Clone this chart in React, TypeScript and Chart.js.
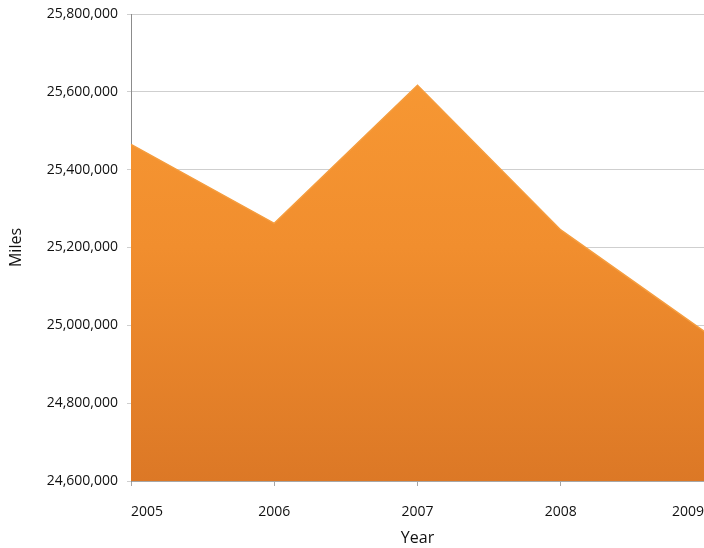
import React, { useEffect, useRef } from "react";
import { Chart, registerables } from "chart.js";

Chart.register(...registerables);

const years = ["2005", "2006", "2007", "2008", "2009"];
const miles = [25465000, 25262000, 25617000, 25245000, 24985000];
const yMin = 24600000;
const yMax = 25800000;
const yStep = 200000;

export default function App() {
  const ref = useRef<HTMLCanvasElement | null>(null);

  useEffect(() => {
    if (!ref.current) return;
    const chart = new Chart(ref.current, {
      type: "line",
      data: {
        labels: years,
        datasets: [
          {
            label: "Miles",
            data: miles,
            fill: "start",
            tension: 0,
            borderColor: "#F59D3F",
            borderWidth: 1.5,
            pointRadius: 0,
            backgroundColor: (ctx: any) => {
              const c = ctx.chart;
              const area = c.chartArea;
              if (!area) return "#F0892C";
              const g = c.ctx.createLinearGradient(0, area.top, 0, area.bottom);
              g.addColorStop(0, "#F99B35");
              g.addColorStop(0.5, "#F18E2E");
              g.addColorStop(1, "#DC7826");
              return g;
            },
          },
        ],
      },
      options: {
        responsive: true,
        maintainAspectRatio: false,
        animation: false,
        layout: { padding: { top: 14, right: 0, left: 0, bottom: 0 } },
        plugins: {
          legend: { display: false },
          tooltip: { enabled: false },
        },
        scales: {
          x: {
            type: "category",
            offset: false,
            afterFit: (scale: any) => {
              scale.height = 67;
              scale.paddingLeft = 0;
              scale.paddingRight = 0;
            },
            grid: {
              display: true,
              drawOnChartArea: false,
              drawTicks: true,
              tickLength: 5,
              color: "#A6A6A6",
            },
            border: { display: true, color: "#A6A6A6", width: 1 },
            ticks: {
              align: "inner",
              padding: 18,
              maxRotation: 0,
              autoSkip: false,
              color: "#111",
              font: { family: "'Open Sans', sans-serif", size: 14 },
            },
            title: {
              display: true,
              text: "Year",
              color: "#111",
              padding: { top: 0, bottom: 0 },
              font: { family: "'Open Sans', sans-serif", size: 16 },
            },
          },
          y: {
            min: yMin,
            max: yMax,
            afterFit: (scale: any) => {
              scale.width = 131;
              scale.paddingTop = 0;
              scale.paddingBottom = 0;
            },
            grid: {
              display: true,
              drawOnChartArea: true,
              drawTicks: true,
              tickLength: 4,
              color: "#CFCFCF",
            },
            border: { display: true, color: "#8C8C8C", width: 1 },
            ticks: {
              stepSize: yStep,
              padding: 9,
              color: "#111",
              font: { family: "'Open Sans', sans-serif", size: 14 },
              callback: (v: any) => Number(v).toLocaleString("en-US"),
            },
            title: {
              display: true,
              text: "Miles",
              color: "#111",
              padding: { top: 7, bottom: 0 },
              font: { family: "'Open Sans', sans-serif", size: 16 },
            },
          },
        },
      },
    });
    return () => chart.destroy();
  }, []);

  return (
    <div style={{ position: "absolute", left: 0, top: 0, width: 704, height: 548 }}>
      <canvas ref={ref} />
    </div>
  );
}
